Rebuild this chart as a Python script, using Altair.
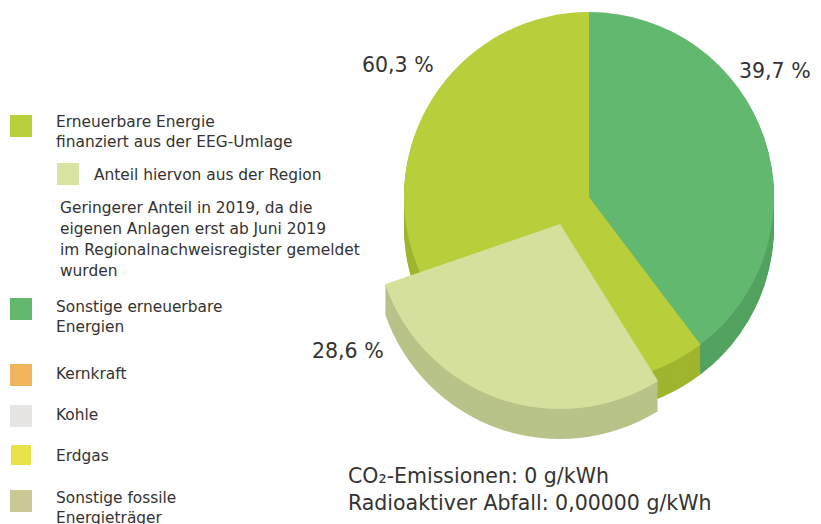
import math
import altair as alt
import pandas as pd

# ---------------- data ----------------
slice_names = ["Sonstige erneuerbare Energien", "Erneuerbare Energie finanziert aus der EEG-Umlage"]
slice_shares = [39.7, 60.3]
slice_top_colors = ["#62b86f", "#b8cf3b"]
slice_side_colors = ["#53a260", "#a0b52f"]

region_name = "Anteil hiervon aus der Region"
region_share = 28.6
region_top_color = "#d5e09c"
region_side_color = "#b8c389"

pct_labels = ["60,3 %", "39,7 %", "28,6 %"]

legend_labels = [
    "Erneuerbare Energie\nfinanziert aus der EEG-Umlage",
    "Anteil hiervon aus der Region",
    "Sonstige erneuerbare\nEnergien",
    "Kernkraft",
    "Kohle",
    "Erdgas",
    "Sonstige fossile\nEnergieträger",
]
legend_colors = ["#b9d03a", "#d9e4a2", "#62b86f", "#f0b45c", "#e6e5e3", "#e8e349", "#cbc995"]
note_text = ("Geringerer Anteil in 2019, da die\neigenen Anlagen erst ab Juni 2019\n"
             "im Regionalnachweisregister gemeldet\nwurden")
footer_lines = ["CO\u2082-Emissionen: 0 g/kWh", "Radioaktiver Abfall: 0,00000 g/kWh"]

# ---------------- layout ----------------
W, H = 805, 516
CX, CY, R = 581, 189, 185
DEPTH = 30
REGION_START_DEG = 148
REGION_DX, REGION_DY = -29, 27
FONT = "DejaVu Sans"
TXT = "#333333"

legend_boxes = [  # x0, y0, x1, y1 (chart px)
    (2, 107, 24, 129), (49, 155, 71, 177), (2, 290, 24, 312), (2, 356, 24, 378),
    (2, 397, 24, 419), (3, 437, 23, 457), (2, 482, 24, 504),
]
legend_text_pos = [(48, 119), (86, 172), (48, 304), (48, 371), (48, 412), (48, 453), (48, 495)]
pct_pos = [(354, 64), (731, 70), (304, 350)]

# ---------------- tables ----------------
pie_df = pd.DataFrame({
    "name": slice_names, "share": slice_shares, "order": list(range(len(slice_names))),
    "top": slice_top_colors, "side": slice_side_colors,
})
t0 = math.radians(REGION_START_DEG)
region_df = pd.DataFrame({
    "name": [region_name], "t0": [t0], "t1": [t0 + region_share / 100 * 2 * math.pi],
    "top": [region_top_color], "side": [region_side_color],
})
legend_df = pd.DataFrame({
    "label": legend_labels, "color": legend_colors,
    "x0": [b[0] for b in legend_boxes], "y0": [b[1] for b in legend_boxes],
    "x1": [b[2] for b in legend_boxes], "y1": [b[3] for b in legend_boxes],
    "tx": [p[0] for p in legend_text_pos], "ty": [p[1] for p in legend_text_pos],
})
pct_df = pd.DataFrame({"label": pct_labels, "x": [p[0] for p in pct_pos], "y": [p[1] for p in pct_pos]})


def pie_layer(dy, col):
    return alt.Chart(pie_df).mark_arc(radius=R).encode(
        theta=alt.Theta("share:Q", stack=True),
        order=alt.Order("order:Q"),
        color=alt.Color(f"{col}:N", scale=None),
        x=alt.value(CX), y=alt.value(CY + dy),
    )


def region_layer(dy, col):
    return alt.Chart(region_df).mark_arc(radius=R).encode(
        theta=alt.Theta("t0:Q", scale=None, stack=None),
        theta2=alt.Theta2("t1:Q"),
        color=alt.Color(f"{col}:N", scale=None),
        x=alt.value(CX + REGION_DX), y=alt.value(CY + REGION_DY + dy),
    )


depths = list(range(DEPTH, 0, -2)) + [1]
layers = [pie_layer(d, "side") for d in depths] + [pie_layer(0, "top")]
layers += [region_layer(d, "side") for d in depths] + [region_layer(0, "top")]

legend_rects = alt.Chart(legend_df).mark_rect().encode(
    x=alt.X("x0:Q", scale=None), x2="x1:Q",
    y=alt.Y("y0:Q", scale=None), y2="y1:Q",
    color=alt.Color("color:N", scale=None),
)
legend_text = alt.Chart(legend_df).mark_text(
    align="left", baseline="alphabetic", font=FONT, fontSize=15.4, color=TXT,
    lineBreak="\n", lineHeight=20,
).encode(x=alt.X("tx:Q", scale=None), y=alt.Y("ty:Q", scale=None), text="label:N")

note = alt.Chart(pd.DataFrame({"t": [note_text]})).mark_text(
    align="left", baseline="alphabetic", font=FONT, fontSize=15.4, color=TXT,
    lineBreak="\n", lineHeight=21,
).encode(x=alt.value(52), y=alt.value(205), text="t:N")

pct_text = alt.Chart(pct_df).mark_text(
    align="left", baseline="alphabetic", font=FONT, fontSize=20.5, color=TXT,
).encode(x=alt.X("x:Q", scale=None), y=alt.Y("y:Q", scale=None), text="label:N")

footer = alt.Chart(pd.DataFrame({"t": ["\n".join(footer_lines)]})).mark_text(
    align="left", baseline="alphabetic", font=FONT, fontSize=20.5, color=TXT,
    lineBreak="\n", lineHeight=27,
).encode(x=alt.value(340), y=alt.value(475), text="t:N")

layers += [legend_rects, legend_text, note, pct_text, footer]

chart = alt.layer(*layers).properties(
    width=W, height=H, padding=0, autosize="none", background="white"
).configure_view(stroke=None)

chart.save("out.html", embed_options={"renderer": "svg", "actions": False})
